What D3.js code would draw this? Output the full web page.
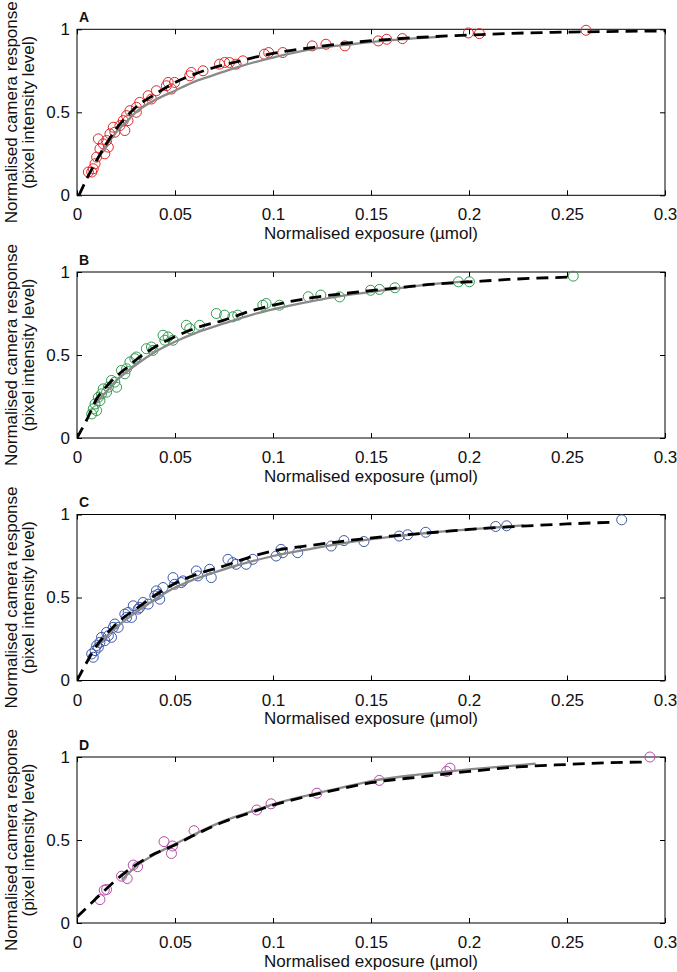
<!DOCTYPE html>
<html>
<head>
<meta charset="utf-8">
<script src="https://cdn.jsdelivr.net/npm/d3@7"></script>
<style>
  html, body { margin: 0; padding: 0; background: #fff; }
  svg { display: block; font-family: "Liberation Sans", Arial, Helvetica, sans-serif; }
</style>
</head>
<body>
<svg id="chart" width="677" height="972"></svg>
<script>
// ---------- data ----------
const panelLetters = ["A", "B", "C", "D"];
const markerColors = ["#e3282b", "#2f9d4e", "#3d59a9", "#b64aa9"];
const xTickValues = [0, 0.05, 0.1, 0.15, 0.2, 0.25, 0.3];
const xTickLabels = ["0", "0.05", "0.1", "0.15", "0.2", "0.25", "0.3"];
const yTickValues = [0, 0.5, 1];
const yTickLabels = ["0", "0.5", "1"];
const xTitle = "Normalised exposure (\u00b5mol)";
const yTitle1 = "Normalised camera response";
const yTitle2 = "(pixel intensity level)";

// measured points [exposure, response]
const pointsA = [
  [0.0075,0.14],[0.0058,0.14],[0.0083,0.16],[0.0092,0.19],[0.010,0.23],[0.0117,0.28],
  [0.0134,0.31],[0.0109,0.34],[0.0151,0.33],[0.016,0.29],[0.0142,0.25],[0.0168,0.37],
  [0.0193,0.38],[0.0185,0.41],[0.0219,0.42],[0.0244,0.39],[0.0236,0.45],[0.0253,0.48],
  [0.027,0.51],[0.026,0.45],[0.0303,0.53],[0.032,0.56],[0.0303,0.50],[0.0363,0.60],
  [0.038,0.58],[0.0405,0.63],[0.0456,0.66],[0.0465,0.68],[0.0482,0.64],[0.0498,0.68],
  [0.0575,0.72],[0.0583,0.74],[0.0643,0.75],[0.0727,0.79],[0.0753,0.80],[0.0778,0.80],
  [0.0812,0.79],[0.0846,0.81],[0.0956,0.85],[0.0978,0.86],[0.105,0.86],[0.120,0.90],
  [0.127,0.91],[0.1367,0.90],[0.1537,0.93],[0.158,0.94],[0.166,0.944],[0.1997,0.978],
  [0.2053,0.974],[0.2597,0.994]
];
const pointsB = [
  [0.0075,0.145],[0.0083,0.175],[0.0092,0.205],[0.010,0.165],[0.0109,0.245],[0.0117,0.225],
  [0.0125,0.266],[0.0134,0.296],[0.0151,0.276],[0.016,0.306],[0.0176,0.347],[0.0193,0.337],
  [0.0202,0.306],[0.0227,0.407],[0.0244,0.387],[0.0253,0.417],[0.027,0.458],[0.0295,0.478],
  [0.0303,0.488],[0.0354,0.538],[0.038,0.548],[0.0388,0.528],[0.0439,0.619],[0.0448,0.589],
  [0.0465,0.609],[0.049,0.589],[0.0558,0.679],[0.0575,0.659],[0.0626,0.679],[0.0711,0.750],
  [0.0753,0.740],[0.0795,0.730],[0.082,0.740],[0.0948,0.80],[0.0965,0.81],[0.1033,0.80],
  [0.118,0.851],[0.1244,0.861],[0.134,0.85],[0.1498,0.89],[0.1543,0.895],[0.1622,0.905],
  [0.1946,0.941],[0.2002,0.941],[0.2532,0.975]
];
const pointsC = [
  [0.0075,0.16],[0.0083,0.14],[0.0092,0.18],[0.010,0.21],[0.0109,0.20],[0.0117,0.23],
  [0.0125,0.26],[0.0142,0.24],[0.0151,0.29],[0.016,0.27],[0.0176,0.26],[0.0185,0.32],
  [0.0193,0.34],[0.021,0.32],[0.0244,0.40],[0.0253,0.38],[0.0261,0.41],[0.0278,0.38],
  [0.0287,0.45],[0.0312,0.43],[0.032,0.44],[0.0337,0.47],[0.0363,0.46],[0.0397,0.51],
  [0.0405,0.54],[0.0414,0.52],[0.0422,0.49],[0.0439,0.56],[0.049,0.62],[0.0498,0.58],
  [0.0532,0.59],[0.0541,0.60],[0.0609,0.66],[0.0617,0.63],[0.0677,0.67],[0.0685,0.62],
  [0.0770,0.73],[0.0795,0.71],[0.0812,0.70],[0.0863,0.70],[0.0897,0.73],[0.1016,0.75],
  [0.1041,0.79],[0.105,0.77],[0.1126,0.77],[0.1297,0.81],[0.1362,0.843],[0.1464,0.837],
  [0.1644,0.87],[0.1687,0.878],[0.1779,0.893],[0.2136,0.928],[0.2192,0.932],[0.2779,0.968]
];
const pointsD = [
  [0.0117,0.141],[0.0139,0.198],[0.0151,0.202],[0.0227,0.282],[0.0256,0.268],[0.0287,0.349],
  [0.0309,0.339],[0.0444,0.49],[0.0487,0.464],[0.0482,0.419],[0.0597,0.556],[0.0917,0.681],
  [0.099,0.718],[0.1224,0.782],[0.1542,0.859],[0.1886,0.913],[0.1903,0.933],[0.2923,1.0]
];

// fitted curves
const dashedA = [[0.001,0],[0.005,0.10],[0.01,0.21],[0.015,0.31],[0.02,0.40],[0.025,0.47],[0.03,0.53],[0.04,0.61],[0.05,0.68],[0.06,0.73],[0.07,0.77],[0.08,0.80],[0.09,0.83],[0.1,0.855],[0.12,0.89],[0.14,0.92],[0.16,0.94],[0.18,0.955],[0.2,0.965],[0.22,0.975],[0.25,0.983],[0.3,0.99]];
const grayA = [[0.01,0.21],[0.015,0.30],[0.02,0.38],[0.025,0.44],[0.03,0.50],[0.04,0.575],[0.05,0.63],[0.06,0.685],[0.07,0.725],[0.08,0.765],[0.09,0.80],[0.1,0.83],[0.12,0.88],[0.14,0.91],[0.16,0.935],[0.185,0.955]];
const dashedB = [[0,0],[0.005,0.11],[0.01,0.235],[0.015,0.31],[0.02,0.37],[0.025,0.42],[0.03,0.47],[0.04,0.55],[0.05,0.61],[0.06,0.66],[0.075,0.71],[0.09,0.77],[0.1,0.80],[0.12,0.845],[0.14,0.875],[0.16,0.90],[0.18,0.925],[0.2,0.94],[0.22,0.955],[0.253,0.97]];
const grayB = [[0.009,0.2],[0.015,0.28],[0.02,0.345],[0.03,0.44],[0.04,0.52],[0.05,0.58],[0.06,0.63],[0.075,0.69],[0.09,0.745],[0.1,0.775],[0.12,0.825],[0.14,0.865],[0.16,0.895],[0.18,0.925],[0.2,0.945]];
const dashedC = [[0,0],[0.005,0.11],[0.01,0.21],[0.015,0.28],[0.02,0.34],[0.025,0.39],[0.03,0.43],[0.04,0.515],[0.05,0.585],[0.06,0.635],[0.075,0.69],[0.09,0.75],[0.1,0.78],[0.12,0.815],[0.14,0.845],[0.16,0.87],[0.18,0.89],[0.2,0.91],[0.22,0.925],[0.25,0.943],[0.274,0.954]];
const grayC = [[0.01,0.2],[0.015,0.265],[0.02,0.32],[0.03,0.41],[0.04,0.49],[0.05,0.56],[0.06,0.61],[0.075,0.67],[0.09,0.72],[0.1,0.75],[0.12,0.795],[0.14,0.835],[0.16,0.865],[0.18,0.89],[0.2,0.91],[0.228,0.935]];
const dashedD = [[0,0.036],[0.01,0.15],[0.02,0.26],[0.03,0.35],[0.04,0.42],[0.05,0.47],[0.06,0.53],[0.075,0.61],[0.09,0.67],[0.1,0.71],[0.12,0.77],[0.135,0.81],[0.15,0.845],[0.175,0.88],[0.2,0.913],[0.225,0.94],[0.25,0.955],[0.27,0.965],[0.29,0.97]];
const grayD = [[0.023,0.26],[0.03,0.34],[0.04,0.415],[0.05,0.475],[0.06,0.535],[0.075,0.615],[0.09,0.675],[0.1,0.715],[0.12,0.775],[0.135,0.815],[0.15,0.855],[0.175,0.895],[0.2,0.925],[0.234,0.96]];

const allPoints = [pointsA, pointsB, pointsC, pointsD];
const allDashed = [dashedA, dashedB, dashedC, dashedD];
const allGray = [grayA, grayB, grayC, grayD];

// ---------- layout ----------
const svg = d3.select("#chart");
const left = 77, right = 665;
const panelTops = [29.3, 272, 514.5, 757];
const panelH = 166;
const FONT = 17;

const x = d3.scaleLinear().domain([0, 0.3]).range([left, right]);

panelLetters.forEach((letter, i) => {
  const top = panelTops[i], bottom = top + panelH;
  const y = d3.scaleLinear().domain([0, 1]).range([bottom, top]);
  const g = svg.append("g");

  const clipId = "clip" + i;
  svg.append("clipPath").attr("id", clipId)
    .append("rect").attr("x", left).attr("y", top - 6).attr("width", right - left).attr("height", panelH + 6);

  const xb = d3.axisBottom(x).tickValues(xTickValues).tickFormat((d, k) => xTickLabels[k])
    .tickSizeInner(-5).tickSizeOuter(0).tickPadding(13);
  const xt = d3.axisTop(x).tickValues(xTickValues).tickFormat("").tickSizeInner(-5).tickSizeOuter(0);
  const yl = d3.axisLeft(y).tickValues(yTickValues).tickFormat((d, k) => yTickLabels[k])
    .tickSizeInner(-5).tickSizeOuter(0).tickPadding(7);
  const yr = d3.axisRight(y).tickValues(yTickValues).tickFormat("").tickSizeInner(-5).tickSizeOuter(0);

  const axes = [
    g.append("g").attr("transform", `translate(0,${bottom})`).call(xb),
    g.append("g").attr("transform", `translate(0,${top})`).call(xt),
    g.append("g").attr("transform", `translate(${left},0)`).call(yl),
    g.append("g").attr("transform", `translate(${right},0)`).call(yr)
  ];
  axes.forEach(a => {
    a.select(".domain").remove();
    a.selectAll(".tick line").attr("stroke", "#000").attr("stroke-width", 1);
    a.selectAll("text").attr("font-size", FONT).attr("fill", "#111")
      .attr("font-family", "'Liberation Sans', Arial, Helvetica, sans-serif");
  });

  g.append("rect").attr("x", left).attr("y", top).attr("width", right - left).attr("height", panelH)
    .attr("fill", "none").attr("stroke", "#000").attr("stroke-width", 1);

  const plot = g.append("g").attr("clip-path", `url(#${clipId})`);

  plot.selectAll("circle").data(allPoints[i]).join("circle")
    .attr("cx", d => x(d[0])).attr("cy", d => y(d[1])).attr("r", 5)
    .attr("fill", "none").attr("stroke", markerColors[i]).attr("stroke-width", 1);

  const line = d3.line().x(d => x(d[0])).y(d => y(d[1])).curve(d3.curveMonotoneX);

  plot.append("path").datum(allGray[i]).attr("d", line)
    .attr("fill", "none").attr("stroke", "#8a8a8a").attr("stroke-width", 2.3);
  plot.append("path").datum(allDashed[i]).attr("d", line)
    .attr("fill", "none").attr("stroke", "#000").attr("stroke-width", 2.8)
    .attr("stroke-dasharray", "12,7");

  g.append("text").attr("x", 79).attr("y", top - 7.5).text(letter)
    .attr("font-size", 14).attr("font-weight", "bold").attr("fill", "#111");

  g.append("text").attr("x", (left + right) / 2).attr("y", bottom + 43.5)
    .attr("text-anchor", "middle").attr("font-size", FONT).attr("fill", "#111").text(xTitle);

  const cy = (top + bottom) / 2;
  g.append("text").attr("transform", `translate(17,${cy}) rotate(-90)`)
    .attr("text-anchor", "middle").attr("font-size", FONT).attr("fill", "#111").text(yTitle1);
  g.append("text").attr("transform", `translate(34,${cy}) rotate(-90)`)
    .attr("text-anchor", "middle").attr("font-size", FONT).attr("fill", "#111").text(yTitle2);
});
</script>
</body>
</html>
